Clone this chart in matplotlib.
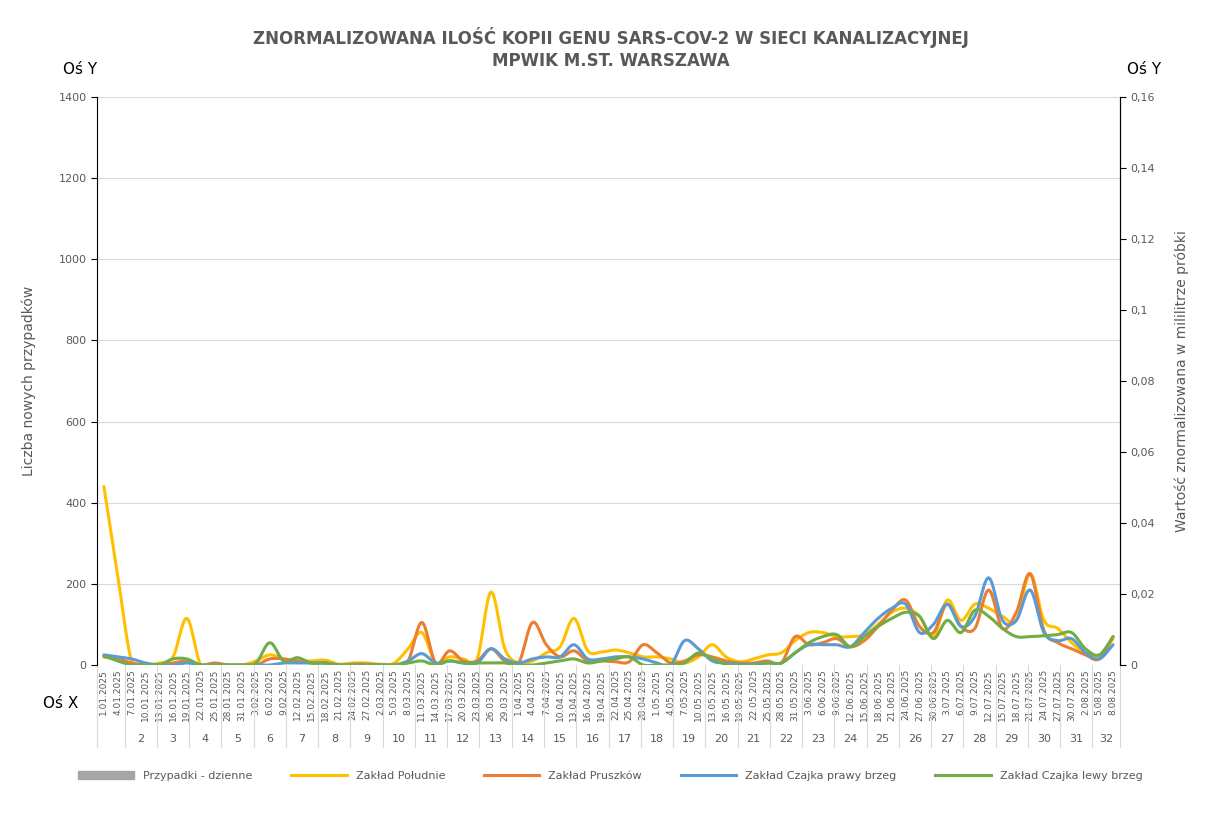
import numpy as np
import matplotlib
matplotlib.use("Agg")
import matplotlib.pyplot as plt
import datetime as dt
from matplotlib.patches import Patch
from matplotlib.lines import Line2D

start = dt.date(2025, 1, 1)
dates = [start + dt.timedelta(days=3 * i) for i in range(74)]
date_labels = [f"{d.day}.{d.month:02d}.{d.year}" for d in dates]

poludnie = [440,220,10,0,5,20,115,0,0,0,0,10,25,15,10,10,12,2,5,5,2,5,40,80,5,20,15,15,180,40,
            5,10,30,45,115,35,32,37,30,20,20,15,5,20,50,20,8,15,25,30,60,80,80,70,70,75,100,130,
            140,120,70,160,110,150,140,120,110,225,110,90,55,30,20,65]
pruszkow = [20,15,5,0,0,5,10,0,5,0,0,0,15,15,10,5,5,0,2,2,0,0,10,105,5,35,10,10,40,10,
            5,105,50,20,35,10,10,8,8,50,30,5,10,25,20,10,5,5,10,5,70,50,55,65,45,60,95,135,
            160,95,80,150,95,90,185,90,130,225,85,55,40,25,15,70]
czajka_prawy = [25,20,15,5,0,0,5,0,0,0,0,0,0,5,5,5,5,0,0,0,0,0,10,28,5,10,5,5,40,15,
                5,15,20,20,50,15,15,20,20,15,5,0,60,40,10,5,2,2,5,5,30,50,50,50,45,80,115,140,
                150,80,100,150,95,120,215,110,110,185,80,60,65,30,15,50]
czajka_lewy = [22,10,0,0,0,15,15,0,0,0,0,5,55,10,18,5,5,0,0,0,0,0,5,10,0,10,5,5,5,5,
               0,0,5,10,15,5,10,15,20,0,0,0,5,30,15,2,0,0,5,5,30,55,70,75,45,70,95,115,
               130,120,65,110,80,135,120,90,70,70,72,75,80,40,25,70]
przypadki = [0] * 74

def catmull(x, y, n=12):
    x = np.asarray(x, float); y = np.asarray(y, float)
    px = np.concatenate([[2*x[0]-x[1]], x, [2*x[-1]-x[-2]]])
    py = np.concatenate([[2*y[0]-y[1]], y, [2*y[-1]-y[-2]]])
    xs, ys = [], []
    t = np.linspace(0, 1, n, endpoint=False)
    for i in range(1, len(px) - 2):
        for P, out in ((px, xs), (py, ys)):
            p0, p1, p2, p3 = P[i-1], P[i], P[i+1], P[i+2]
            out.extend(0.5*((2*p1) + (-p0+p2)*t + (2*p0-5*p1+4*p2-p3)*t**2 + (-p0+3*p1-3*p2+p3)*t**3))
    xs.append(x[-1]); ys.append(y[-1])
    return np.array(xs), np.array(ys)

fig = plt.figure(figsize=(12.21, 8.16), dpi=100)
ax = fig.add_axes([97/1221, 1-665/816, (1120-97)/1221, (665-97)/816])
gc = "#595959"
x = np.array([(d - start).days for d in dates])
ax.bar(x, przypadki, color="#A5A5A5", width=1.5)
series = [(poludnie, "#FFC000", "Zakład Południe"), (pruszkow, "#ED7D31", "Zakład Pruszków"),
          (czajka_prawy, "#5B9BD5", "Zakład Czajka prawy brzeg"), (czajka_lewy, "#70AD47", "Zakład Czajka lewy brzeg")]
for vals, col, lab in series:
    sx, sy = catmull(x, vals)
    ax.plot(sx, sy, color=col, lw=2.2, solid_capstyle="round")

ax.set_xlim(-1.5, 220.5)
ax.set_ylim(0, 1400)
ax.set_yticks(range(0, 1401, 200))
ax.grid(axis="y", color="#D9D9D9", lw=0.8)
ax.set_axisbelow(True)
for s in ["top", "bottom"]:
    ax.spines[s].set_visible(False)
ax.spines["left"].set_color("black")
ax.spines["right"].set_color("black")
ax.tick_params(axis="y", labelsize=8, colors=gc, length=4)
ax.tick_params(axis="y", color="black")
ax.set_xticks(x)
ax.set_xticklabels(date_labels, rotation=90, fontsize=6.5, color=gc)
ax.tick_params(axis="x", length=0, pad=3)
ax.set_ylabel("Liczba nowych przypadków", fontsize=10, color=gc, labelpad=16)

sec = ax.secondary_yaxis("right", functions=(lambda v: v / 8750.0, lambda v: v * 8750.0))
sec.set_yticks(np.arange(0, 0.161, 0.02))
sec.set_yticklabels(["0", "0,02", "0,04", "0,06", "0,08", "0,1", "0,12", "0,14", "0,16"])
sec.tick_params(labelsize=8, colors=gc, length=4)
sec.tick_params(color="black")
sec.spines["right"].set_color("black")
sec.set_ylabel("Wartość znormalizowana w mililitrze próbki", fontsize=10, color=gc, labelpad=14)

# week grouping row (daily axis)
days = np.arange(0, 221)
weeks = [(start + dt.timedelta(days=int(d))).isocalendar()[1] for d in days]
trans = ax.get_xaxis_transform()
groups = []
for d, w in zip(days, weeks):
    if groups and groups[-1][0] == w:
        groups[-1][2] = d
    else:
        groups.append([w, d, d])
bounds = [-1.5] + [min(g[2] + 0.5, 220.5) for g in groups]
for b in bounds:
    ax.plot([b, b], [0, -0.145], transform=trans, color="#D9D9D9", lw=0.8, clip_on=False)
for w, a, b in groups:
    lab = "" if w == 1 else str(w)
    ax.text((a + b) / 2, -0.13, lab, transform=trans, ha="center", va="center", fontsize=8, color=gc)

fig.text(0.5, 1-37/816, "ZNORMALIZOWANA ILOŚĆ KOPII GENU SARS-COV-2 W SIECI KANALIZACYJNEJ",
         ha="center", va="center", fontsize=12, fontweight="bold", color=gc)
fig.text(0.5, 1-61/816, "MPWIK M.ST. WARSZAWA", ha="center", va="center", fontsize=12, fontweight="bold", color=gc)
fig.text(63/1221, 1-70/816, "Oś Y", ha="left", va="center", fontsize=11, color="black")
fig.text(1127/1221, 1-70/816, "Oś Y", ha="left", va="center", fontsize=11, color="black")
fig.text(43/1221, 1-703/816, "Oś X", ha="left", va="center", fontsize=11, color="black")

handles = [Patch(color="#A5A5A5")] + [Line2D([], [], color=c, lw=2.2) for _, c, _ in series]
labels = ["Przypadki - dzienne"] + [l for _, _, l in series]
fig.legend(handles, labels, loc="center", bbox_to_anchor=(0.5, 1-776/816), ncol=5, frameon=False,
           fontsize=8, labelcolor=gc, handlelength=5, columnspacing=3.5)

fig.savefig("out.png", dpi=100)
